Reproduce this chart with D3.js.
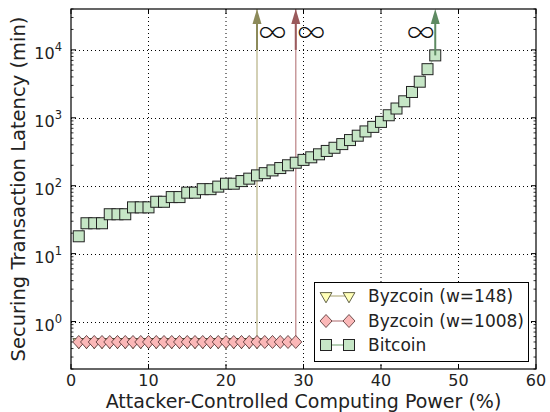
<!DOCTYPE html>
<html><head><meta charset="utf-8">
<script src="https://cdn.jsdelivr.net/npm/d3@7"></script>
<style>body{margin:0;background:#fff;} svg{display:block;font-family:"DejaVu Sans",sans-serif;}</style>
</head><body>
<svg id="c" width="550" height="412"></svg>
<script>
// ---- data ----
const byz148X = [1,2,3,4,5,6,7,8,9,10,11,12,13,14,15,16,17,18,19,20,21,22,23,24];
const byz148Y = [0.5,0.5,0.5,0.5,0.5,0.5,0.5,0.5,0.5,0.5,0.5,0.5,0.5,0.5,0.5,0.5,0.5,0.5,0.5,0.5,0.5,0.5,0.5,0.5];
const byz1008X = [1,2,3,4,5,6,7,8,9,10,11,12,13,14,15,16,17,18,19,20,21,22,23,24,25,26,27,28,29];
const byz1008Y = [0.5,0.5,0.5,0.5,0.5,0.5,0.5,0.5,0.5,0.5,0.5,0.5,0.5,0.5,0.5,0.5,0.5,0.5,0.5,0.5,0.5,0.5,0.5,0.5,0.5,0.5,0.5,0.5,0.5];
const bitcoinX = [1,2,3,4,5,6,7,8,9,10,11,12,13,14,15,16,17,18,19,20,21,22,23,24,25,26,27,28,29,30,31,32,33,34,35,36,37,38,39,40,41,42,43,44,45,46,47];
const bitcoinY = [18,28,28,28,38,38,38,48,48,48,58,58,68,68,79,79,89,89,97,107,107,117,127,142,153,168,182,200,218,240,262,290,325,362,410,470,545,630,735,870,1090,1370,1750,2400,3400,5200,8300];
const xTicks = [0,10,20,30,40,50,60];
const yTicks = [1,10,100,1000,10000];
const yTickExp = ["0","1","2","3","4"];
const legendLabels = ["Byzcoin (w=148)","Byzcoin (w=1008)","Bitcoin"];
const infinityX = [24,29,47];   // x positions where latency goes to infinity
const xLabel = "Attacker-Controlled Computing Power (%)";
const yLabel = "Securing Transaction Latency (min)";

// ---- layout ----
const L=71, R=536, T=9, B=369;
const svg = d3.select("#c");
const x = d3.scaleLinear().domain([0,60]).range([L,R]);
const y = d3.scaleLog().domain([0.2,40000]).range([B,T]);

// grid
const g = svg.append("g");
g.selectAll(".gx").data(xTicks.slice(1,-1)).join("line")
  .attr("x1",d=>x(d)).attr("x2",d=>x(d)).attr("y1",T).attr("y2",B)
  .attr("stroke","#000").attr("stroke-width",1).attr("stroke-dasharray","1,3");
g.selectAll(".gy").data(yTicks).join("line")
  .attr("x1",L).attr("x2",R).attr("y1",d=>Math.round(y(d))+0.5).attr("y2",d=>Math.round(y(d))+0.5)
  .attr("stroke","#000").attr("stroke-width",1).attr("stroke-dasharray","1,3");

// minor y ticks
const minor = [];
[0.1,1,10,100,1000,10000].forEach(dec=>{for(let k=2;k<=9;k++){const v=dec*k; if(v>=0.2&&v<=40000) minor.push(v);}});
[L,R].forEach((ax,i)=>{
  const dir = i===0?1:-1;
  g.selectAll(null).data(minor).join("line")
   .attr("x1",ax).attr("x2",ax+dir*2.5).attr("y1",d=>y(d)).attr("y2",d=>y(d)).attr("stroke","#000").attr("stroke-width",0.8);
  g.selectAll(null).data(yTicks).join("line")
   .attr("x1",ax).attr("x2",ax+dir*5).attr("y1",d=>y(d)).attr("y2",d=>y(d)).attr("stroke","#000").attr("stroke-width",1);
});
[B,T].forEach((ay,i)=>{
  const dir = i===0?-1:1;
  g.selectAll(null).data(xTicks).join("line")
   .attr("x1",d=>x(d)).attr("x2",d=>x(d)).attr("y1",ay).attr("y2",ay+dir*5).attr("stroke","#000").attr("stroke-width",1);
});

// series lines
const line = d3.line().x(d=>x(d[0])).y(d=>y(d[1]));
const p148 = byz148X.map((v,i)=>[v,byz148Y[i]]);
const p1008 = byz1008X.map((v,i)=>[v,byz1008Y[i]]);
const pBit = bitcoinX.map((v,i)=>[v,bitcoinY[i]]);

const col148 = {line:"#c4c09c", fill:"#ffffb8", edge:"#3a3a20", arrow:"#8c8a5a"};
const col1008 = {line:"#c89a9c", fill:"#fbb8b8", edge:"#4a2a2a", arrow:"#9a5a5c"};
const colBit = {line:"#9cbf9c", fill:"#c6e6c6", edge:"#222", arrow:"#5e8a62"};

// infinity verticals (series colour) from last point to top
function vline(px,py,c){ svg.append("line").attr("x1",x(px)).attr("x2",x(px)).attr("y1",y(py)).attr("y2",T).attr("stroke",c).attr("stroke-width",1.5); }
vline(byz148X[byz148X.length-1], byz148Y[byz148Y.length-1], col148.line);
vline(byz1008X[byz1008X.length-1], byz1008Y[byz1008Y.length-1], col1008.line);

svg.append("path").attr("d",line(p148)).attr("fill","none").attr("stroke",col148.line).attr("stroke-width",1);
svg.append("path").attr("d",line(p1008)).attr("fill","none").attr("stroke",col1008.line).attr("stroke-width",1);
svg.append("path").attr("d",line(pBit)).attr("fill","none").attr("stroke",colBit.line).attr("stroke-width",1);

// markers
const tri = d3.symbol().type(d3.symbolTriangle).size(60);
svg.append("g").selectAll("path").data(p148).join("path")
  .attr("d",tri).attr("transform",d=>`translate(${x(d[0])},${y(d[1])}) rotate(180)`)
  .attr("fill",col148.fill).attr("stroke",col148.edge).attr("stroke-width",0.8);
svg.append("g").selectAll("path").data(p1008).join("path")
  .attr("d","M0,-6.5L6,0L0,6.5L-6,0Z").attr("transform",d=>`translate(${x(d[0])},${y(d[1])})`)
  .attr("fill",col1008.fill).attr("stroke",col1008.edge).attr("stroke-width",0.8);
svg.append("g").selectAll("rect").data(pBit).join("rect")
  .attr("x",d=>x(d[0])-5.5).attr("y",d=>y(d[1])-5.5).attr("width",11).attr("height",11)
  .attr("fill",colBit.fill).attr("stroke",colBit.edge).attr("stroke-width",1);

// arrows
function arrow(px, fromV, c){
  const xx=x(px), y0=y(fromV);
  svg.append("line").attr("x1",xx).attr("x2",xx).attr("y1",y0).attr("y2",T+12).attr("stroke",c).attr("stroke-width",2);
  svg.append("path").attr("d",`M${xx},${T}L${xx-4.5},${T+15}L${xx+4.5},${T+15}Z`).attr("fill",c);
}
arrow(infinityX[0], 10000, col148.arrow);
arrow(infinityX[1], 10000, col1008.arrow);
arrow(infinityX[2], bitcoinY[bitcoinY.length-1], colBit.arrow);

// infinity labels
const infAnchor = ["start","start","end"];
const infOff = [2,2,-1];
infinityX.forEach((v,i)=>{
  svg.append("text").attr("x",x(v)+infOff[i]).attr("y",43).attr("text-anchor",infAnchor[i])
   .attr("font-family","'Noto Sans CJK JP'").attr("font-weight",300).attr("font-size",27).attr("fill","#111").text("\u221E");
});

// frame
svg.append("rect").attr("x",L).attr("y",T).attr("width",R-L).attr("height",B-T).attr("fill","none").attr("stroke","#000").attr("stroke-width",1.2);

// tick labels
svg.append("g").selectAll("text").data(xTicks).join("text")
  .attr("x",d=>x(d)).attr("y",B+17).attr("text-anchor","middle").attr("font-size",16).attr("fill","#222").text(d=>d);
const yl = svg.append("g").selectAll("text").data(yTicks).join("text")
  .attr("x",L-9).attr("y",d=>y(d)+9).attr("text-anchor","end").attr("font-size",16).attr("fill","#222");
yl.append("tspan").text("10");
yl.append("tspan").attr("dy",-8).attr("font-size",11.5).text((d,i)=>yTickExp[i]);

// axis labels
svg.append("text").attr("x",(L+R)/2).attr("y",408).attr("text-anchor","middle").attr("font-size",19).attr("fill","#222").text(xLabel);
svg.append("text").attr("transform",`translate(25,${(T+B)/2}) rotate(-90)`).attr("text-anchor","middle").attr("font-size",19.5).attr("fill","#222").text(yLabel);

// legend
const lg = svg.append("g");
lg.append("rect").attr("x",314.5).attr("y",282.5).attr("width",214).attr("height",79).attr("fill","#fff").attr("stroke","#000").attr("stroke-width",1);
const rows=[296,321,345];
const cols=[col148,col1008,colBit];
rows.forEach((ry,i)=>{
  lg.append("line").attr("x1",326).attr("x2",349).attr("y1",ry).attr("y2",ry).attr("stroke",cols[i].line).attr("stroke-width",1.5);
  [326,349].forEach(mx=>{
    if(i===0) lg.append("path").attr("d",tri).attr("transform",`translate(${mx},${ry}) rotate(180)`).attr("fill",cols[i].fill).attr("stroke",cols[i].edge).attr("stroke-width",0.8);
    if(i===1) lg.append("path").attr("d","M0,-6.5L6,0L0,6.5L-6,0Z").attr("transform",`translate(${mx},${ry})`).attr("fill",cols[i].fill).attr("stroke",cols[i].edge).attr("stroke-width",0.8);
    if(i===2) lg.append("rect").attr("x",mx-5.5).attr("y",ry-5.5).attr("width",11).attr("height",11).attr("fill",cols[i].fill).attr("stroke",cols[i].edge).attr("stroke-width",1);
  });
  lg.append("text").attr("x",368).attr("y",ry+6).attr("font-size",17).attr("fill","#222").text(legendLabels[i]);
});
</script>
</body></html>
